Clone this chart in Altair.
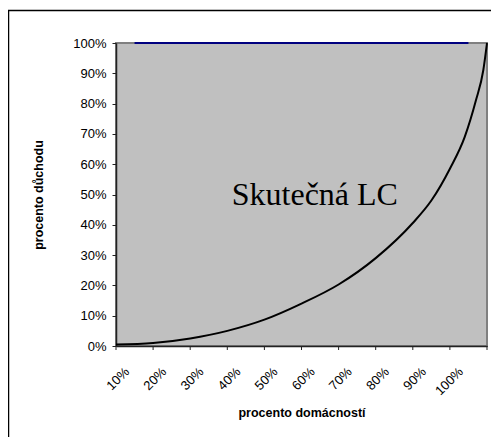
import altair as alt
import pandas as pd

# ---- data ----
categories = ["10%", "20%", "30%", "40%", "50%", "60%", "70%", "80%", "90%", "100%"]
equality_values = [1.0, 1.0, 1.0, 1.0, 1.0, 1.0, 1.0, 1.0, 1.0, 1.0]

curve_x = [0.0, 0.1, 0.2, 0.3, 0.4, 0.5, 0.6, 0.7, 0.8, 0.85, 0.9, 0.94, 0.97, 0.99, 1.0]
curve_y = [0.005, 0.01, 0.025, 0.05, 0.087, 0.14, 0.203, 0.29, 0.406, 0.48, 0.585, 0.69, 0.81, 0.91, 1.0]

y_tick_values = [0.0, 0.1, 0.2, 0.3, 0.4, 0.5, 0.6, 0.7, 0.8, 0.9, 1.0]
x_tick_marks = [0.0, 0.1, 0.2, 0.3, 0.4, 0.5, 0.6, 0.7, 0.8, 0.9, 1.0]

label_text = ["Skutečná LC"]
label_x = [0.536]
label_y = [0.465]

W, H = 371, 303
PAD = {"left": 108, "top": 35, "right": 4, "bottom": 91}

blue_df = pd.DataFrame({"cat": categories, "y": equality_values})
curve_df = pd.DataFrame({"t": curve_x, "y": curve_y})
ticks_df = pd.DataFrame({"t": x_tick_marks})
text_df = pd.DataFrame({"t": label_x, "y": label_y, "label": label_text})
frame_df = pd.DataFrame({"a": [0]})

yscale = alt.Scale(domain=[0, 1], nice=False)
xq = alt.Scale(domain=[0, 1], nice=False)

y_axis = alt.Axis(title="procento důchodu", values=y_tick_values, format=".0%",
                  grid=False, tickSize=4, tickColor="#222", labelPadding=6,
                  labelOverlap=False, labelSeparation=0,
                  labelFont="Liberation Sans", labelFontSize=13, labelColor="black",
                  domainColor="#222", domainWidth=1.5,
                  titleFont="Liberation Sans", titleFontSize=12.5, titleFontWeight="bold",
                  titleColor="black", titleX=-78, titleBaseline="middle")

blue = alt.Chart(blue_df).mark_line(color="#000080", strokeWidth=2).encode(
    x=alt.X("cat:N", sort=categories,
            scale=alt.Scale(type="point", padding=0.5),
            axis=alt.Axis(title="procento domácností", labelAngle=-45, ticks=False,
                          labelOverlap=False, labelOffset=-12,
                          labelFont="Liberation Sans", labelFontSize=13, labelColor="black",
                          labelPadding=19, domainColor="#222", domainWidth=1.5,
                          titleFont="Liberation Sans", titleFontSize=12.5, titleFontWeight="bold",
                          titleColor="black", titleY=66, titleBaseline="middle")),
    y=alt.Y("y:Q", scale=yscale, axis=y_axis),
)

curve = alt.Chart(curve_df).mark_line(color="black", strokeWidth=2, interpolate="monotone", clip=False).encode(
    x=alt.X("t:Q", scale=xq, axis=None),
    y=alt.Y("y:Q", scale=yscale, axis=y_axis),
)

ticks = alt.Chart(ticks_df).mark_rule(color="#222", strokeWidth=1).encode(
    x=alt.X("t:Q", scale=xq, axis=None),
    y=alt.value(H),
    y2=alt.value(H + 4),
)

text = alt.Chart(text_df).mark_text(font="Liberation Serif", fontSize=32, align="center",
                                    baseline="alphabetic", color="black").encode(
    x=alt.X("t:Q", scale=xq, axis=None),
    y=alt.Y("y:Q", scale=yscale, axis=y_axis),
    text="label:N",
)

frame_left = alt.Chart(frame_df).mark_rule(color="black", strokeWidth=1.5).encode(
    x=alt.value(-PAD["left"] + 0.5), y=alt.value(-PAD["top"] + 2.5), y2=alt.value(H + PAD["bottom"]))
frame_top = alt.Chart(frame_df).mark_rule(color="black", strokeWidth=1.5).encode(
    x=alt.value(-PAD["left"]), x2=alt.value(W + PAD["right"]), y=alt.value(-PAD["top"] + 2.5))

chart = alt.layer(blue, curve, ticks, text, frame_left, frame_top).resolve_scale(
    x="independent"
).properties(
    width=W, height=H,
    autosize=alt.AutoSizeParams(type="none"),
    padding=PAD,
    background="white",
).configure_view(
    fill="#C0C0C0", stroke="#808080", strokeWidth=2
).configure_axis(
    labelOverlap=False
)

chart.save("out.html", embed_options={"renderer": "svg", "actions": False})
